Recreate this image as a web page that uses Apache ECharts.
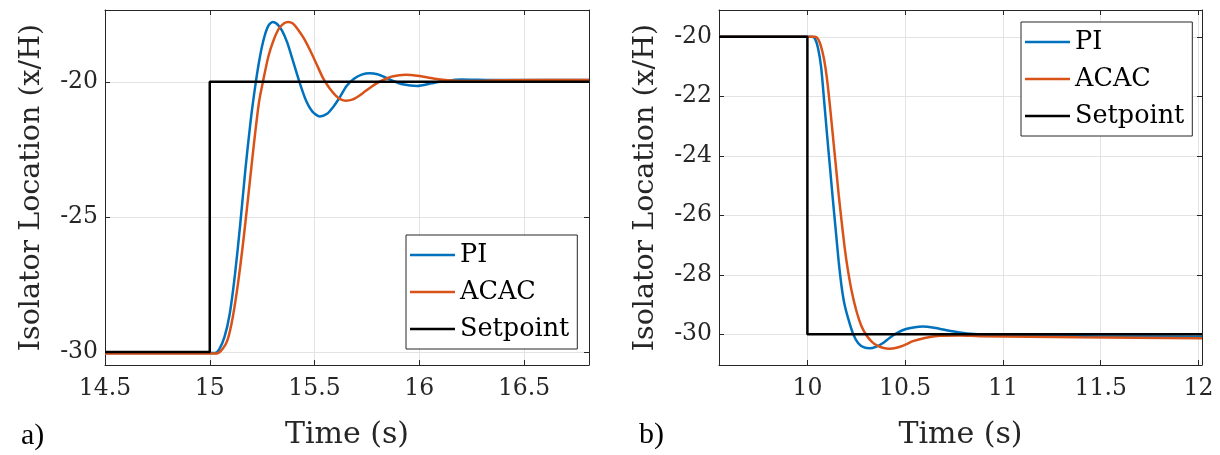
<!DOCTYPE html>
<html>
<head>
<meta charset="utf-8">
<script src="https://cdn.jsdelivr.net/npm/echarts@6/dist/echarts.min.js"></script>
<style>
html,body{margin:0;padding:0;background:#fff;}
#chart{width:1220px;height:455px;}
</style>
</head>
<body>
<div id="chart"></div>
<script>
// ---------- Data ----------
// Panel a)
const aPI_t   = [14.5, 15.025, 15.045, 15.07, 15.095, 15.12, 15.145, 15.17, 15.195, 15.22, 15.24, 15.26, 15.28, 15.30, 15.32, 15.345, 15.37, 15.40, 15.43, 15.46, 15.49, 15.525, 15.56, 15.59, 15.62, 15.653, 15.69, 15.725, 15.764, 15.80, 15.84, 15.88, 15.92, 15.99, 16.06, 16.13, 16.2, 16.35, 16.81];
const aPI_v   = [-30.04, -30.04, -29.9, -29.45, -28.6, -27.15, -25.3, -23.25, -21.45, -20.0, -19.05, -18.35, -17.92, -17.78, -17.85, -18.1, -18.55, -19.3, -20.05, -20.7, -21.1, -21.28, -21.18, -20.92, -20.58, -20.15, -19.88, -19.73, -19.68, -19.72, -19.84, -19.98, -20.09, -20.15, -20.05, -19.96, -19.91, -19.93, -19.93];
const aACAC_t = [14.5, 15.035, 15.06, 15.085, 15.11, 15.135, 15.16, 15.185, 15.21, 15.235, 15.255, 15.28, 15.305, 15.33, 15.355, 15.374, 15.395, 15.42, 15.45, 15.48, 15.51, 15.54, 15.57, 15.60, 15.625, 15.65, 15.68, 15.71, 15.74, 15.77, 15.80, 15.83, 15.87, 15.936, 15.99, 16.035, 16.09, 16.15, 16.23, 16.4, 16.81];
const aACAC_v = [-30.05, -30.05, -29.9, -29.55, -28.7, -27.45, -25.9, -24.15, -22.35, -20.75, -19.95, -19.05, -18.45, -18.03, -17.83, -17.78, -17.83, -18.05, -18.4, -18.85, -19.35, -19.85, -20.22, -20.5, -20.65, -20.7, -20.66, -20.53, -20.36, -20.19, -20.04, -19.92, -19.8, -19.74, -19.77, -19.83, -19.9, -19.95, -19.97, -19.94, -19.93];
const aSet_t  = [14.5, 15.0, 15.0, 16.81];
const aSet_v  = [-30, -30, -20, -20];
// Panel b)
const bPI_t   = [9.548, 10.025, 10.04, 10.055, 10.07, 10.085, 10.1, 10.115, 10.13, 10.145, 10.16, 10.175, 10.19, 10.21, 10.233, 10.26, 10.29, 10.32, 10.35, 10.385, 10.42, 10.455, 10.50, 10.55, 10.59, 10.64, 10.711, 10.78, 10.85, 11.0, 11.5, 12.018];
const bPI_v   = [-20, -20, -20.08, -20.4, -21.0, -22.1, -23.25, -24.35, -25.45, -26.5, -27.55, -28.4, -29.0, -29.5, -29.97, -30.3, -30.44, -30.47, -30.42, -30.3, -30.12, -29.97, -29.83, -29.76, -29.74, -29.77, -29.86, -29.94, -29.99, -30.04, -30.07, -30.08];
const bACAC_t = [9.548, 10.04, 10.055, 10.07, 10.085, 10.1, 10.115, 10.13, 10.145, 10.16, 10.175, 10.19, 10.205, 10.225, 10.25, 10.275, 10.302, 10.33, 10.36, 10.39, 10.42, 10.45, 10.49, 10.54, 10.6, 10.677, 10.78, 10.88, 11.39, 12.018];
const bACAC_v = [-20, -20, -20.08, -20.33, -20.75, -21.4, -22.3, -23.3, -24.3, -25.3, -26.2, -27.05, -27.75, -28.5, -29.2, -29.7, -30.03, -30.25, -30.39, -30.46, -30.48, -30.46, -30.38, -30.23, -30.12, -30.05, -30.04, -30.06, -30.1, -30.13];
const bSet_t  = [9.548, 10.0, 10.0, 12.018];
const bSet_v  = [-20, -20, -30, -30];

const seriesNames = ['PI', 'ACAC', 'Setpoint'];
const axisRangeA = {xmin: 14.5, xmax: 16.81, xstep: 0.5, ymin: -30.48, ymax: -17.34, ystep: 5};
const axisRangeB = {xmin: 9.548, xmax: 12.018, xstep: 0.5, ymin: -31.03, ymax: -19.10, ystep: 2};
const xTitle = 'Time (s)';
const yTitle = 'Isolator Location (x/H)';
const panelLabels = ['a)', 'b)'];

// ---------- Styles ----------
const FONT = 'DejaVu Serif';
const TXT = '#262626';
const GRIDC = '#e3e3e3';
const COLORS = {PI: '#0072BD', ACAC: '#D95319', Setpoint: '#000000'};

const zip = (t, v) => t.map((x, i) => [x, v[i]]);

function xAxes(r, gridIndex, showMinLabel) {
  const common = {
    type: 'value', gridIndex, min: r.xmin, max: r.xmax,
    minInterval: r.xstep, maxInterval: r.xstep,
    axisLine: {show: true, onZero: false, lineStyle: {color: TXT, width: 1}},
    axisTick: {show: true, inside: true, length: 5, lineStyle: {color: TXT}},
  };
  return [
    Object.assign({}, common, {
      position: 'bottom',
      name: xTitle, nameLocation: 'middle', nameGap: 55,
      nameTextStyle: {fontFamily: FONT, fontSize: 30, color: TXT},
      axisLabel: {show: true, fontFamily: FONT, fontSize: 23.5, color: TXT, margin: 12,
        showMinLabel: showMinLabel, showMaxLabel: false},
      splitLine: {show: true, lineStyle: {color: GRIDC, width: 1}}
    }),
    Object.assign({}, common, {
      position: 'top', axisLabel: {show: false}, splitLine: {show: false}
    })
  ];
}
function yAxes(r, gridIndex) {
  const common = {
    type: 'value', gridIndex, min: r.ymin, max: r.ymax,
    minInterval: r.ystep, maxInterval: r.ystep,
    axisLine: {show: true, onZero: false, lineStyle: {color: TXT, width: 1}},
    axisTick: {show: true, inside: true, length: 5, lineStyle: {color: TXT}},
  };
  return [
    Object.assign({}, common, {
      position: 'left',
      name: yTitle, nameLocation: 'middle', nameGap: 59,
      nameTextStyle: {fontFamily: FONT, fontSize: 28.5, color: TXT},
      axisLabel: {show: true, fontFamily: FONT, fontSize: 23.5, color: TXT, margin: 7,
        showMinLabel: false, showMaxLabel: false},
      splitLine: {show: true, lineStyle: {color: GRIDC, width: 1}}
    }),
    Object.assign({}, common, {
      position: 'right', axisLabel: {show: false}, splitLine: {show: false}
    })
  ];
}

function mkSeries(name, data, xi, yi) {
  return {
    name, type: 'line', xAxisIndex: xi, yAxisIndex: yi, data,
    showSymbol: false, symbol: 'none', smooth: name === 'Setpoint' ? false : 0.25,
    lineStyle: {color: COLORS[name], width: 2.5},
    itemStyle: {color: COLORS[name]},
    animation: false, silent: true
  };
}

function mkLegend(left, top) {
  return {
    orient: 'vertical', left, top,
    data: seriesNames,
    icon: 'rect', itemWidth: 45, itemHeight: 2.5, itemGap: 11, itemTextGap: 5,
    padding: [7, 8, 7, 4],
    backgroundColor: '#fff', borderColor: TXT, borderWidth: 1, borderRadius: 0,
    textStyle: {fontFamily: FONT, fontSize: 25.5, color: '#000'},
    selectedMode: false
  };
}

const option = {
  animation: false,
  backgroundColor: '#fff',
  grid: [
    {left: 105, top: 10, width: 484, height: 356},
    {left: 719, top: 10, width: 483, height: 355}
  ],
  xAxis: [...xAxes(axisRangeA, 0, true), ...xAxes(axisRangeB, 1, false)],
  yAxis: [...yAxes(axisRangeA, 0), ...yAxes(axisRangeB, 1)],
  legend: [mkLegend(406, 235), mkLegend(1021, 22)],
  series: [
    mkSeries('PI', zip(aPI_t, aPI_v), 0, 0),
    mkSeries('ACAC', zip(aACAC_t, aACAC_v), 0, 0),
    mkSeries('Setpoint', zip(aSet_t, aSet_v), 0, 0),
    mkSeries('PI', zip(bPI_t, bPI_v), 2, 2),
    mkSeries('ACAC', zip(bACAC_t, bACAC_v), 2, 2),
    mkSeries('Setpoint', zip(bSet_t, bSet_v), 2, 2)
  ],
  graphic: [
    {type: 'text', left: 21, top: 421, style: {text: panelLabels[0], font: '30px "Liberation Serif"', fill: '#000'}},
    {type: 'text', left: 639, top: 420, style: {text: panelLabels[1], font: '30px "Liberation Serif"', fill: '#000'}}
  ]
};

const chart = echarts.init(document.getElementById('chart'), null, {renderer: 'canvas'});
chart.setOption(option);
</script>
</body>
</html>
